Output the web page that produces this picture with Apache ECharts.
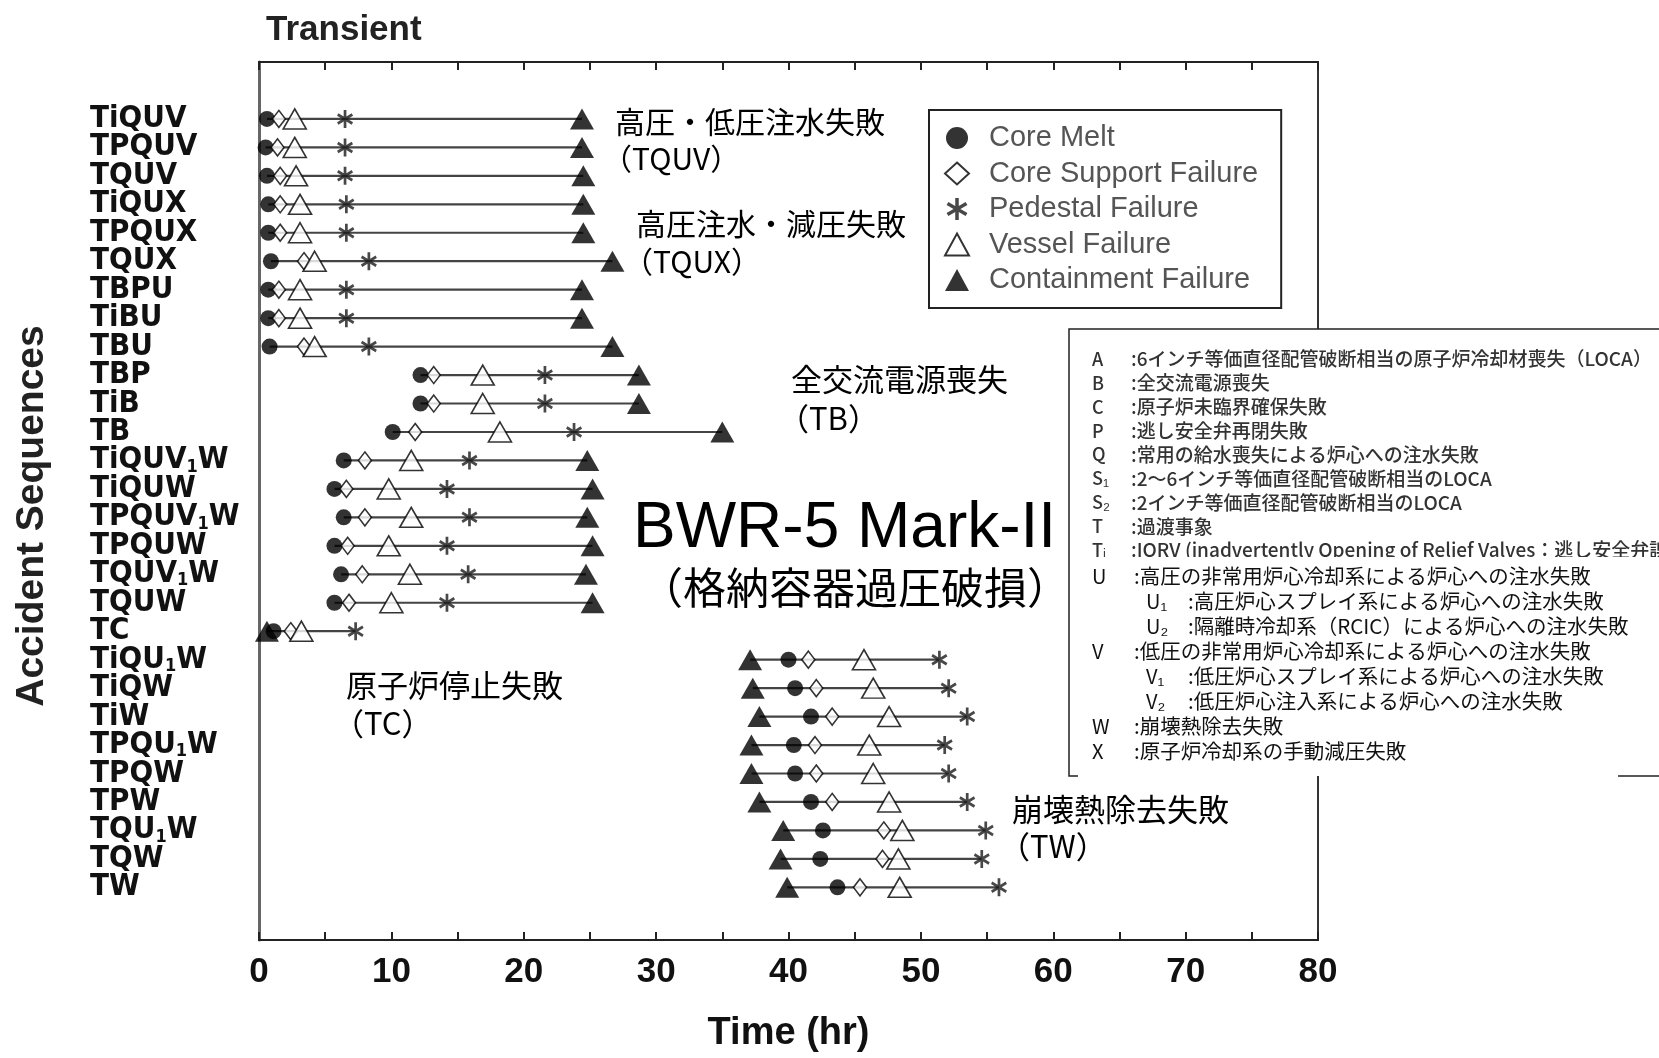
<!DOCTYPE html>
<html><head><meta charset="utf-8">
<script src="https://cdn.jsdelivr.net/npm/echarts@6/dist/echarts.min.js"></script>
<style>html,body{margin:0;padding:0;background:#fff}#c{width:1659px;height:1058px}</style>
</head><body><div id="c"></div>
<script>
// ---- data ----
const categories = ['TiQUV','TPQUV','TQUV','TiQUX','TPQUX','TQUX','TBPU','TiBU','TBU','TBP','TiB','TB',
  'TiQUV1W','TiQUW','TPQUV1W','TPQUW','TQUV1W','TQUW','TC','TiQU1W','TiQW','TiW','TPQU1W','TPQW','TPW','TQU1W','TQW','TW'];
const coreMelt    = [0.6,0.5,0.6,0.7,0.7,0.9,0.7,0.7,0.8,12.2,12.2,10.1,6.4,5.7,6.4,5.7,6.2,5.7,1.1,40.0,40.5,41.7,40.4,40.5,41.7,42.6,42.4,43.7];
const coreSupport = [1.5,1.4,1.6,1.6,1.6,3.4,1.5,1.5,3.4,13.2,13.2,11.8,8.0,6.6,8.0,6.7,7.8,6.8,2.4,41.5,42.1,43.3,42.0,42.1,43.3,47.2,47.1,45.4];
const pedestal    = [6.5,6.5,6.5,6.6,6.6,8.3,6.6,6.6,8.3,21.6,21.6,23.8,15.9,14.2,15.9,14.2,15.8,14.2,7.3,51.4,52.1,53.5,51.8,52.1,53.5,54.9,54.6,55.9];
const vessel      = [2.7,2.7,2.8,3.1,3.1,4.2,3.1,3.1,4.2,16.9,16.9,18.2,11.5,9.8,11.5,9.8,11.4,10.0,3.2,45.7,46.4,47.6,46.1,46.4,47.6,48.6,48.3,48.4];
const containment = [24.4,24.4,24.5,24.5,24.5,26.7,24.4,24.4,26.7,28.7,28.7,35.0,24.8,25.2,24.8,25.2,24.7,25.2,0.6,37.1,37.3,37.8,37.2,37.2,37.8,39.6,39.4,39.9];
const seriesNames = ['Core Melt','Core Support Failure','Pedestal Failure','Vessel Failure','Containment Failure'];
const abbrevGroup1 = [
  ['A','6インチ等価直径配管破断相当の原子炉冷却材喪失（LOCA）'],
  ['B','全交流電源喪失'],
  ['C','原子炉未臨界確保失敗'],
  ['P','逃し安全弁再閉失敗'],
  ['Q','常用の給水喪失による炉心への注水失敗'],
  ['S₁','2～6インチ等価直径配管破断相当のLOCA'],
  ['S₂','2インチ等価直径配管破断相当のLOCA'],
  ['T','過渡事象'],
  ['Tᵢ','IORV (inadvertently Opening of Relief Valves：逃し安全弁誤開)']
];
const abbrevGroup2 = [
  ['U','高圧の非常用炉心冷却系による炉心への注水失敗',0],
  ['U₁','高圧炉心スプレイ系による炉心への注水失敗',1],
  ['U₂','隔離時冷却系（RCIC）による炉心への注水失敗',1],
  ['V','低圧の非常用炉心冷却系による炉心への注水失敗',0],
  ['V₁','低圧炉心スプレイ系による炉心への注水失敗',1],
  ['V₂','低圧炉心注入系による炉心への注水失敗',1],
  ['W','崩壊熱除去失敗',0],
  ['X','原子炉冷却系の手動減圧失敗',0]
];

// ---- build ----
const NARROW = '"Liberation Sans Narrow","Arial Narrow","DejaVu Sans Condensed",sans-serif';
const SANS = '"Liberation Sans",Arial,sans-serif';
const JP = '"Noto Sans CJK JP",sans-serif';
const ASTER = 'path://M8.4,0L11.6,0L11.6,20L8.4,20Z M2.14,3.61L19.46,13.61L17.86,16.39L0.54,6.39Z M17.86,3.61L19.46,6.39L2.14,16.39L0.54,13.61Z';

const toPts = arr => arr.map((v, i) => [v, i]);
const segs = categories.map((c, i) => {
  const vals = [coreMelt[i], coreSupport[i], pedestal[i], vessel[i], containment[i]];
  return [Math.min(...vals), Math.max(...vals), i];
});

const graphics = [];
function txt(x, y, text, font, fill, extra) {
  graphics.push(Object.assign({type:'text', x, y, z:100,
    style:{text, font, fill, align:'left', verticalAlign:'middle'}}, extra||{}));
}
// y-axis title
graphics.push({type:'text', x:32, y:516, rotation:Math.PI/2, z:100,
  style:{text:'Accident Sequences', font:'bold 39px ' + SANS, fill:'#222', align:'center', verticalAlign:'middle'}});
// annotations
txt(615, 122, '高圧・低圧注水失敗', '30px ' + JP, '#000');
txt(602, 159, '（TQUV）', '30px ' + JP, '#000');
txt(636, 224, '高圧注水・減圧失敗', '30px ' + JP, '#000');
txt(623, 262, '（TQUX）', '30px ' + JP, '#000');
txt(791, 379, '全交流電源喪失', '31px ' + JP, '#000');
txt(778, 418, '（TB）', '31px ' + JP, '#000');
txt(633, 529, 'BWR-5 Mark-II', '64px ' + SANS, '#000');
txt(640, 588, '（格納容器過圧破損）', '43px ' + JP, '#000');
txt(346, 685, '原子炉停止失敗', '31px ' + JP, '#000');
txt(333, 723, '（TC）', '31px ' + JP, '#000');
txt(1012, 809, '崩壊熱除去失敗', '31px ' + JP, '#000');
txt(999, 846, '（TW）', '31px ' + JP, '#000');

// abbreviation box
graphics.push({type:'rect', z:90, shape:{x:1069, y:329, width:700, height:447}, style:{fill:'#fff'}});
graphics.push({type:'polyline', z:91, shape:{points:[[1700,329],[1069,329],[1069,776],[1078,776]]}, style:{stroke:'#222', lineWidth:1.5, fill:null}});
graphics.push({type:'line', z:91, shape:{x1:1618, y1:776, x2:1700, y2:776}, style:{stroke:'#222', lineWidth:1.5}});
abbrevGroup1.forEach((r, k) => {
  const y = 359 + k * 23.9;
  txt(1092, y, r[0], '500 18px ' + JP, '#333');
  txt(1131, y, ':' + r[1], '500 19px ' + JP, '#333');
});
// clip the last (Ti) line as in the reference
graphics.push({type:'rect', z:101, shape:{x:1075, y:557, width:600, height:8}, style:{fill:'#fff'}});
abbrevGroup2.forEach((r, k) => {
  const y = 576 + k * 25.1;
  const ind = r[2] ? 54 : 0;
  txt(1092 + ind, y, r[0], '20px ' + JP, '#111');
  txt(1134 + ind, y, ':' + r[1], '20.5px ' + JP, '#111');
});

const scatterBase = {type:'scatter', silent:true, emphasis:{disabled:true}, xAxisIndex:0, yAxisIndex:0};

const option = {
  animation:false,
  backgroundColor:'#fff',
  title:{text:'Transient', left:261, top:8, textStyle:{fontFamily:SANS, fontSize:35, fontWeight:'bold', color:'#222'}},
  grid:{left:259, top:62, width:1059, height:886, show:true, borderColor:'#333', borderWidth:2, backgroundColor:'transparent'},
  legend:{orient:'vertical', left:929, top:110, padding:[13,23,13,15], itemWidth:24, itemHeight:22, itemGap:5.5,
    backgroundColor:'#fff', borderColor:'#222', borderWidth:2, selectedMode:false, z:10,
    textStyle:{fontFamily:SANS, fontSize:29, color:'#555', lineHeight:30, padding:[0,0,0,15]},
    data:seriesNames},
  xAxis:[
    {type:'value', position:'bottom', min:0, max:80, interval:5,
     axisLine:{show:true, onZero:false, lineStyle:{color:'#222', width:2}},
     axisTick:{show:true, inside:true, length:8, lineStyle:{color:'#222', width:2}},
     splitLine:{show:false},
     axisLabel:{formatter:v => (v % 10 === 0 ? String(v) : ''), margin:15, fontFamily:SANS, fontSize:35, fontWeight:'bold', color:'#111'},
     name:'Time (hr)', nameLocation:'middle', nameGap:75,
     nameTextStyle:{fontFamily:SANS, fontSize:38, fontWeight:'bold', color:'#111'}},
    {type:'value', position:'top', min:0, max:80, interval:5,
     axisLine:{show:true, onZero:false, lineStyle:{color:'#222', width:2}},
     axisTick:{show:true, inside:true, length:8, lineStyle:{color:'#222', width:2}},
     splitLine:{show:false}, axisLabel:{show:false}}
  ],
  yAxis:[{type:'value', inverse:true, min:-2, max:28.85, interval:1,
    axisLine:{show:true, onZero:false, lineStyle:{color:'#666', width:3}},
    axisTick:{show:false}, splitLine:{show:false},
    axisLabel:{align:'left', margin:169, fontFamily:NARROW, fontSize:31, fontWeight:'bold', color:'#111',
      formatter:v => {
        if (Math.abs(v - Math.round(v)) > 1e-6) return '';
        const n = categories[Math.round(v)];
        return n ? n.replace('1', '{s|1}') : '';
      },
      rich:{s:{fontFamily:NARROW, fontSize:18, fontWeight:'bold', color:'#111', verticalAlign:'bottom'}}}}],
  series:[
    {type:'custom', silent:true, xAxisIndex:0, yAxisIndex:0, z:2, encode:{x:[0,1], y:2}, data:segs,
     renderItem:(params, api) => {
       const p1 = api.coord([api.value(0), api.value(2)]);
       const p2 = api.coord([api.value(1), api.value(2)]);
       return {type:'line', shape:{x1:p1[0], y1:p1[1], x2:p2[0], y2:p2[1]}, style:{stroke:'#444', lineWidth:2.2}};
     }},
    Object.assign({}, scatterBase, {name:seriesNames[0], z:3, symbol:'circle', symbolSize:16,
      itemStyle:{color:'#000'}, data:toPts(coreMelt)}),
    Object.assign({}, scatterBase, {name:seriesNames[1], z:4, symbol:'diamond', symbolSize:[13,17],
      itemStyle:{color:'#fff', borderColor:'#000', borderWidth:1.6}, data:toPts(coreSupport)}),
    Object.assign({}, scatterBase, {name:seriesNames[2], z:6, symbol:ASTER, symbolSize:[16,18],
      itemStyle:{color:'#1a1a1a'}, data:toPts(pedestal)}),
    Object.assign({}, scatterBase, {name:seriesNames[3], z:5, symbol:'triangle', symbolSize:[23,20],
      itemStyle:{color:'#fff', borderColor:'#000', borderWidth:1.6}, data:toPts(vessel)}),
    Object.assign({}, scatterBase, {name:seriesNames[4], z:7, symbol:'triangle', symbolSize:[24,21],
      itemStyle:{color:'#000'}, data:toPts(containment)})
  ],
  graphic:graphics
};
const chart = echarts.init(document.getElementById('c'));
chart.setOption(option);
</script></body></html>
